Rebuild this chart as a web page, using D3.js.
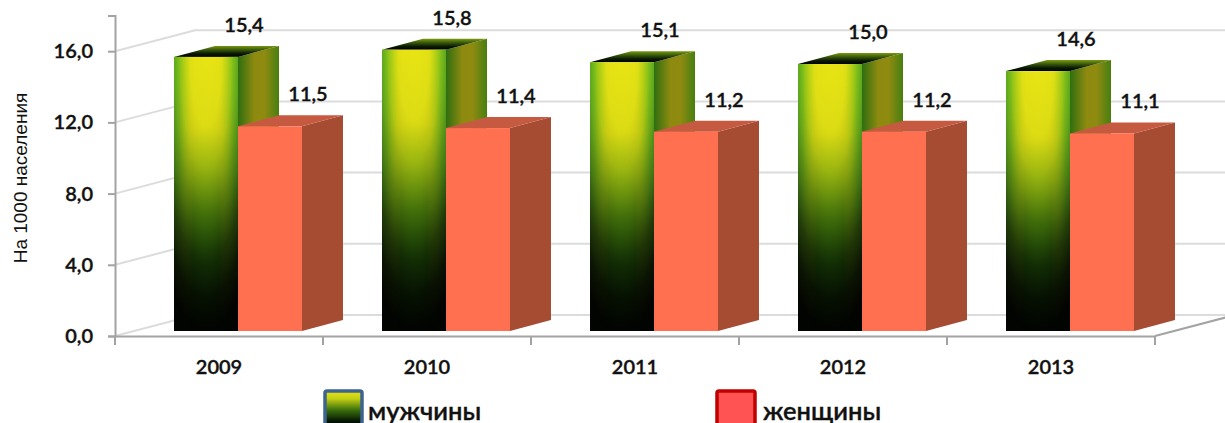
<!DOCTYPE html>
<html>
<head>
<meta charset="utf-8">
<script src="https://cdn.jsdelivr.net/npm/d3@7/dist/d3.min.js"></script>
<style>
  html, body { margin: 0; padding: 0; background: #fff; }
  svg { display: block; }
  text { font-family: Lato, "Noto Sans", sans-serif; font-weight: 600; fill: #111; stroke: #111; stroke-width: 0.35px; }
</style>
</head>
<body>
<svg id="chart" width="1225" height="423"></svg>
<script>
const years = ["2009", "2010", "2011", "2012", "2013"];
const men = [15.4, 15.8, 15.1, 15.0, 14.6];
const women = [11.5, 11.4, 11.2, 11.2, 11.1];
const yTicks = [0, 4, 8, 12, 16];
const seriesNames = ["мужчины", "женщины"];
const axisTitle = "На 1000 населения";

const svg = d3.select("#chart");
const comma = v => v.toFixed(1).replace(".", ",");

// Plot frame and the oblique projection of the 3D walls
const plotLeft = 115, plotRight = 1155, plotBase = 336, plotTop = 15.6;
const wall = { dx: 80, dy: -21 };
const depth = { dx: 41, dy: -11 };
const lift = -5;

const y = d3.scaleLinear().domain([0, 18]).range([plotBase, plotTop]);
const x0 = d3.scaleBand().domain(years).range([plotLeft, plotRight]).paddingInner(0).paddingOuter(0);
const x1 = d3.scaleBand().domain([0, 1]).range([59, 59 + 128]);

// Gradients
const defs = svg.append("defs");
function addStops(g, stops) {
  stops.forEach(([o, c, a]) => g.append("stop").attr("offset", o).attr("stop-color", c)
    .attr("stop-opacity", a === undefined ? 1 : a));
}
function linear(id, horizontal, stops) {
  addStops(defs.append("linearGradient").attr("id", id)
    .attr("x1", 0).attr("y1", 0)
    .attr("x2", horizontal ? 1 : 0).attr("y2", horizontal ? 0 : 1), stops);
}
// The men's front face: a yellow-to-green body, bright green rims, and
// darkness spreading outwards from the top centre
linear("menFront", false, [
  [0, "#e8e414"], [0.26, "#e0e014"], [0.42, "#a8cc12"], [0.58, "#68b010"], [0.75, "#40a010"], [1, "#30a010"]
]);
linear("menEdges", true, [
  [0, "#7ae02a", 1], [0.08, "#80dc20", 0.8], [0.3, "#c8e014", 0],
  [0.7, "#c8e014", 0], [0.92, "#80dc20", 0.8], [1, "#7ae02a", 1]
]);
addStops(defs.append("radialGradient").attr("id", "menShade")
  .attr("cx", 0.5).attr("cy", 0).attr("r", 1).attr("fx", 0.5).attr("fy", 0), [
  [0, "#000", 0], [0.25, "#000", 0.02], [0.4, "#000", 0.12], [0.5, "#000", 0.25],
  [0.62, "#000", 0.45], [0.75, "#000", 0.72], [0.88, "#000", 0.9], [1, "#000", 0.98]
]);
linear("menSide", true, [
  [0, "#2f6e10"], [0.4, "#8e8a10"], [0.65, "#8f8a10"], [1, "#467f10"]
]);
linear("menTop", false, [
  [0, "#7a9a10"], [0.35, "#3a5a0c"], [0.7, "#0a1a04"], [1, "#000"]
]);
linear("legendMen", false, [
  [0, "#e8e414"], [0.2, "#c4d014"], [0.5, "#3a700c"], [0.8, "#031303"], [1, "#000"]
]);

// Walls and floor gridlines
const grid = svg.append("g").attr("fill", "none").attr("stroke", "#dcdcdc").attr("stroke-width", 2);
grid.selectAll("path").data(yTicks).join("path")
  .attr("d", t => {
    const p = d3.path();
    p.moveTo(plotLeft, y(t));
    p.lineTo(plotLeft + wall.dx, y(t) + wall.dy);
    p.lineTo(1225, y(t) + wall.dy);
    return p.toString();
  });

// Axes
const axisY = svg.append("g").attr("transform", `translate(${plotLeft},0)`)
  .call(d3.axisLeft(y).tickValues(yTicks).tickFormat(comma).tickSize(7).tickPadding(15));
const axisX = svg.append("g").attr("transform", `translate(0,${plotBase})`)
  .call(d3.axisBottom(x0).tickSize(0).tickPadding(24));
axisY.selectAll("text").attr("font-size", 20);
axisX.selectAll("text").attr("font-size", 20).attr("dy", "0.71em");
[axisY, axisX].forEach(a => {
  a.attr("font-family", null);
  a.selectAll(".domain, line").attr("stroke", "#a3a3a3").attr("stroke-width", 2);
});
axisX.append("g").selectAll("line")
  .data(years.map(d => x0(d)).concat(plotRight)).join("line")
  .attr("x1", d => d).attr("x2", d => d).attr("y1", 0).attr("y2", 9)
  .attr("stroke", "#a3a3a3").attr("stroke-width", 2);
svg.append("line")
  .attr("x1", plotRight).attr("y1", plotBase)
  .attr("x2", plotRight + wall.dx).attr("y2", plotBase + wall.dy)
  .attr("stroke", "#a3a3a3").attr("stroke-width", 2);

svg.append("text").text(axisTitle)
  .attr("transform", "translate(27,178) rotate(-90)")
  .attr("text-anchor", "middle")
  .style("font-family", "'Liberation Sans', sans-serif")
  .style("font-weight", 400)
  .style("stroke", "none")
  .attr("font-size", 19);

// One 3D bar: side, top, then front faces
function bar(parent, year, value, slot, paint) {
  const xl = x0(year) + x1(slot), w = x1.bandwidth();
  const yt = y(value) + lift, yb = y(0) + lift;
  const g = parent.append("g");
  const poly = pts => pts.map(p => p.join(",")).join(" ");
  g.append("polygon")
    .attr("points", poly([[xl + w, yt], [xl + w + depth.dx, yt + depth.dy], [xl + w + depth.dx, yb + depth.dy], [xl + w, yb]]))
    .attr("fill", paint.side);
  g.append("polygon")
    .attr("points", poly([[xl, yt], [xl + depth.dx, yt + depth.dy], [xl + w + depth.dx, yt + depth.dy], [xl + w, yt]]))
    .attr("fill", paint.top);
  paint.front.forEach(f => g.append("rect")
    .attr("x", xl).attr("y", yt).attr("width", w).attr("height", yb - yt).attr("fill", f));
  parent.append("text").text(comma(value))
    .attr("x", xl + 70).attr("y", yt - 25)
    .attr("text-anchor", "middle")
    .attr("font-size", 20);
}

const bars = svg.append("g");
const menPaint = { side: "url(#menSide)", top: "url(#menTop)", front: ["url(#menFront)", "url(#menEdges)", "url(#menShade)"] };
const womenPaint = { side: "#a54c33", top: "#c55a40", front: ["#ff7050"] };
years.forEach((yr, i) => {
  bar(bars, yr, men[i], 0, menPaint);
  bar(bars, yr, women[i], 1, womenPaint);
});

// Legend, running off the lower edge of the page
const legend = svg.append("g");
const legendItems = [
  { x: 325, w: 37, fill: "url(#legendMen)", stroke: "#3d648e", tx: 368 },
  { x: 717, w: 38, fill: "#ff5252", stroke: "#c00000", tx: 763 }
];
legendItems.forEach((it, i) => {
  legend.append("rect").attr("x", it.x).attr("y", 391).attr("width", it.w).attr("height", 38)
    .attr("rx", 2).attr("fill", it.fill).attr("stroke", it.stroke).attr("stroke-width", 3.5);
  legend.append("text").text(seriesNames[i]).attr("x", it.tx).attr("y", 420).attr("font-size", 25.5);
});
</script>
</body>
</html>
